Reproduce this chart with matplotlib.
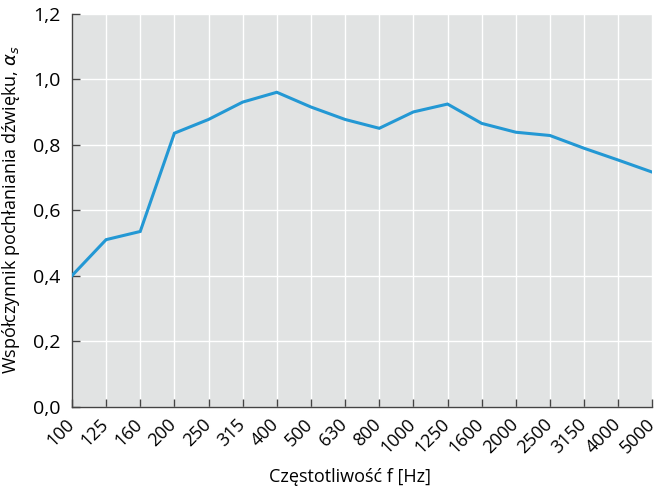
import matplotlib.pyplot as plt

freqs = ["100", "125", "160", "200", "250", "315", "400", "500", "630",
         "800", "1000", "1250", "1600", "2000", "2500", "3150", "4000", "5000"]
alpha_s = [0.40, 0.51, 0.535, 0.835, 0.877, 0.93, 0.96, 0.915, 0.877,
           0.85, 0.90, 0.924, 0.865, 0.838, 0.828, 0.789, 0.753, 0.716]
yticks = [0.0, 0.2, 0.4, 0.6, 0.8, 1.0, 1.2]
ytick_labels = ["0,0", "0,2", "0,4", "0,6", "0,8", "1,0", "1,2"]

plt.rcParams["font.family"] = ["Open Sans", "DejaVu Sans"]

fig = plt.figure(figsize=(6.6, 4.88), dpi=100)
ax = fig.add_axes([0.109, 0.1666, 0.8795, 0.8054])
ax.set_facecolor("#e1e3e3")

x = list(range(len(freqs)))
ax.plot(x, alpha_s, color="#2398d4", linewidth=2.2, solid_joinstyle="miter", zorder=3)

ax.set_xlim(0, len(freqs) - 1)
ax.set_ylim(0, 1.2)
ax.set_xticks(x)
ax.set_xticklabels([])
ax.set_yticks(yticks)
ax.set_yticklabels(ytick_labels, fontsize=14)

# rotated frequency labels, pulled slightly left of each tick
for i, f in zip(x, freqs):
    ax.annotate(f, xy=(i, 0), xycoords=("data", "axes fraction"),
                xytext=(-5, -6), textcoords="offset points",
                rotation=45, ha="right", va="top", rotation_mode="anchor",
                fontsize=13, annotation_clip=False)

ax.grid(True, color="white", linewidth=1.0)
ax.set_axisbelow(True)
for side in ["top", "right"]:
    ax.spines[side].set_visible(False)
for side in ["left", "bottom"]:
    ax.spines[side].set_color("#444444")
    ax.spines[side].set_linewidth(1.0)
ax.tick_params(axis="both", direction="in", length=6, color="#444444", width=1.0)
ax.tick_params(axis="y", pad=8)

ax.set_xlabel("Częstotliwość f [Hz]", fontsize=13, va="center")
ax.xaxis.set_label_coords(0.479, -0.180)
ax.set_ylabel(r"Współczynnik pochłaniania dźwięku, $\alpha_s$", fontsize=13, labelpad=8)

fig.savefig("out.png", dpi=100)
